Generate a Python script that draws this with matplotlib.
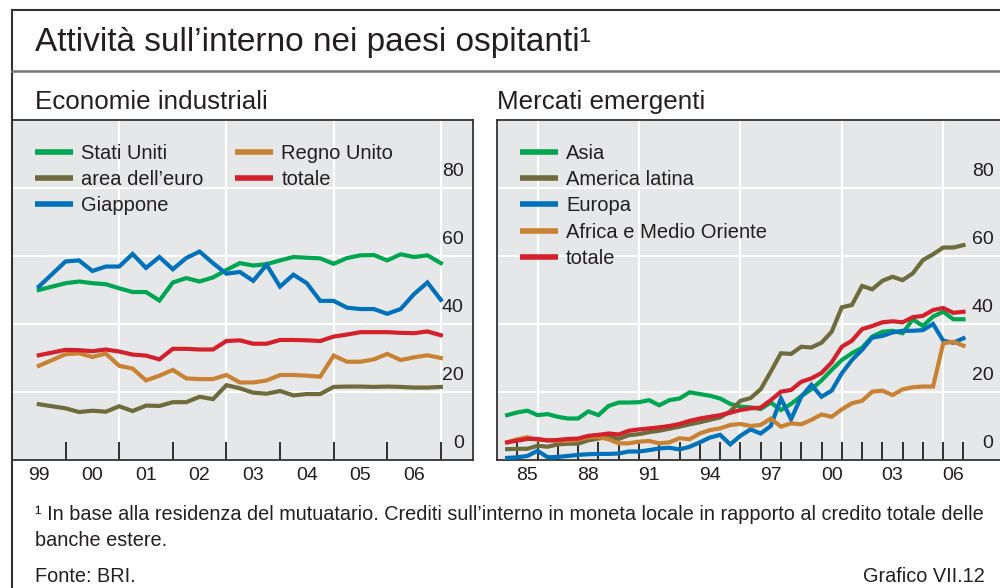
import numpy as np
import matplotlib
matplotlib.use("Agg")
import matplotlib.pyplot as plt
from matplotlib.lines import Line2D

plt.rcParams["font.family"] = ["Liberation Sans", "DejaVu Sans"]

# --- dati: economie industriali (trimestrali, 1999 T2 - 2006 T4) ---
ind_x = 1999.5 + 0.25 * np.arange(31)
stati_uniti = [50.0, 51.0, 52.0, 52.5, 52.0, 51.7, 50.5, 49.4, 49.4, 46.9, 52.2, 53.5, 52.5, 53.7, 55.9, 57.9,
               57.2, 57.6, 58.7, 59.7, 59.5, 59.3, 57.7, 59.4, 60.2, 60.3, 58.7, 60.5, 59.7, 60.2, 57.9]
area_euro = [16.4, 15.8, 15.2, 14.1, 14.5, 14.2, 15.8, 14.4, 16.0, 15.9, 17.0, 17.0, 18.6, 17.9, 22.0, 21.1,
             19.8, 19.5, 20.3, 19.0, 19.4, 19.4, 21.5, 21.6, 21.6, 21.5, 21.6, 21.5, 21.3, 21.3, 21.5]
giappone = [51.0, 54.7, 58.4, 58.7, 55.6, 56.9, 56.9, 60.6, 56.5, 59.7, 56.1, 59.4, 61.3, 57.9, 54.8, 55.3,
            52.7, 57.4, 51.0, 54.5, 52.0, 46.8, 46.8, 44.8, 44.4, 44.4, 43.0, 44.4, 48.8, 52.2, 47.1]
regno_unito = [27.7, 29.4, 31.1, 31.4, 30.3, 31.3, 27.7, 26.9, 23.4, 24.8, 26.5, 24.0, 23.8, 23.8, 25.0, 22.8,
               22.8, 23.4, 25.0, 25.0, 24.8, 24.5, 30.7, 28.9, 28.9, 29.6, 31.2, 29.4, 30.2, 30.8, 30.0]
totale_ind = [30.8, 31.6, 32.4, 32.3, 32.0, 32.5, 31.9, 31.0, 30.7, 29.6, 32.7, 32.7, 32.5, 32.5, 35.0, 35.2,
              34.2, 34.2, 35.3, 35.3, 35.2, 35.0, 36.3, 36.9, 37.6, 37.6, 37.6, 37.4, 37.3, 37.8, 36.7]

# --- dati: mercati emergenti (semestrali, 1984 S1 - 2006 S2) ---
em_x = 1984.5 + 0.5 * np.arange(46)
asia = [13.2, 14.0, 14.5, 13.2, 13.5, 12.7, 12.2, 12.2, 14.3, 13.2, 15.9, 16.9, 16.9, 17.0, 17.6, 16.1, 17.6,
        18.1, 19.9, 19.4, 18.9, 18.1, 16.5, 15.7, 15.5, 15.0, 16.9, 14.7, 16.5, 18.8, 20.8,
        23.4, 26.5, 29.4, 31.4, 33.0, 36.3, 37.7, 38.0, 37.3, 41.4, 39.4, 42.2, 43.6, 41.4, 41.4]
america_latina = [3.2, 3.3, 3.3, 4.2, 3.9, 4.6, 4.8, 4.8, 5.8, 6.3, 6.9, 6.2, 7.3, 7.6, 8.2, 8.6, 9.2,
                  9.8, 10.5, 11.1, 11.8, 12.5, 14.3, 17.4, 18.2, 20.8, 26.0, 31.4, 31.2, 33.3, 33.1,
                  34.5, 37.7, 44.9, 45.6, 51.2, 50.2, 52.7, 53.9, 52.9, 54.9, 58.8, 60.5, 62.5, 62.5, 63.2]
europa = [0.6, 0.8, 1.2, 2.7, 0.8, 0.9, 1.2, 1.5, 1.7, 1.8, 1.8, 1.9, 2.5, 2.5, 2.9, 3.4, 3.6,
          3.1, 3.9, 5.2, 6.6, 7.4, 4.6, 7.1, 9.0, 7.8, 10.0, 18.1, 12.0, 18.6, 22.1,
          18.6, 20.4, 25.5, 29.4, 32.4, 36.0, 36.5, 37.5, 38.0, 38.0, 38.2, 40.0, 35.1, 34.5, 35.8]
africa_mo = [5.2, 6.1, 6.7, 5.9, 5.9, 5.6, 5.6, 5.9, 6.7, 6.7, 6.1, 4.9, 4.9, 5.4, 5.6, 4.9, 5.2,
             6.4, 6.1, 7.8, 8.8, 9.3, 10.3, 10.6, 10.0, 10.3, 12.2, 9.8, 10.8, 10.5, 11.8,
             13.4, 12.7, 14.9, 16.7, 17.4, 20.1, 20.4, 19.1, 20.8, 21.4, 21.6, 21.6, 34.3, 34.8, 33.6]
totale_em = [5.2, 5.7, 6.2, 6.2, 5.7, 5.9, 6.2, 6.3, 7.1, 7.4, 7.8, 7.5, 8.6, 9.0, 9.3, 9.6, 10.0,
             10.6, 11.5, 12.2, 12.7, 13.2, 13.9, 14.7, 15.2, 15.4, 17.6, 20.1, 20.6, 23.0, 24.0,
             25.6, 28.7, 33.3, 35.1, 38.5, 39.4, 40.5, 40.8, 40.5, 42.0, 42.4, 44.1, 44.7, 43.3, 43.6]

y_ticks = [0, 20, 40, 60, 80]
ind_year_labels = ["99", "00", "01", "02", "03", "04", "05", "06"]
em_year_labels = ["85", "88", "91", "94", "97", "00", "03", "06"]

GREEN = "#00a651"
OLIVE = "#6e6c3c"
BLUE = "#0072bc"
ORANGE = "#c98234"
RED = "#d4202a"
BG = "#e6e7e8"
DARK = "#231f20"
LW = 3.0
FOOT = 14.3

fig = plt.figure(figsize=(10, 5.88), dpi=100)

# cornice
fig.add_artist(Line2D([0.012, 1.0], [1 - 10 / 588] * 2, color="#333333", lw=1.5))
fig.add_artist(Line2D([0.012, 0.012], [0, 1 - 10 / 588], color="#333333", lw=1.5))
fig.add_artist(Line2D([0.012, 1.0], [1 - 71 / 588] * 2, color="#777777", lw=1.8))

fig.text(0.035, 1 - 43 / 588, "Attività sull’interno nei paesi ospitanti¹", fontsize=24,
         color=DARK, va="center", ha="left")
fig.text(0.035, 1 - 102 / 588, "Economie industriali", fontsize=18.7, color=DARK, va="center")
fig.text(0.497, 1 - 102 / 588, "Mercati emergenti", fontsize=18.7, color=DARK, va="center")

fig.text(0.035, 1 - 515 / 588,
         "¹ In base alla residenza del mutuatario. Crediti sull’interno in moneta locale in rapporto al credito totale delle",
         fontsize=FOOT, color=DARK, va="center")
fig.text(0.035, 1 - 541 / 588, "banche estere.", fontsize=FOOT, color=DARK, va="center")
fig.text(0.035, 1 - 577 / 588, "Fonte: BRI.", fontsize=FOOT, color=DARK, va="center")
fig.text(0.985, 1 - 577 / 588, "Grafico VII.12", fontsize=FOOT, color=DARK, va="center", ha="right")

bottom = 1 - 460 / 588
height = 340 / 588
ax1 = fig.add_axes([12 / 1000, bottom, 461 / 1000, height])
ax2 = fig.add_axes([497 / 1000, bottom, 504 / 1000, height])


def style(ax, xlim, major, grid_x, label_pos, labels, lab_x):
    ax.set_facecolor(BG)
    ax.set_xlim(*xlim)
    ax.set_ylim(0, 100)
    for v in y_ticks[1:]:
        ax.axhline(v, color="white", lw=1.5, zorder=1)
    for v in grid_x:
        ax.axvline(v, color="white", lw=1.5, zorder=1)
    ax.set_yticks([])
    ax.set_xticks(major)
    ax.set_xticklabels([])
    ax.set_xticks(label_pos, minor=True)
    ax.set_xticklabels(labels, minor=True, fontsize=14, color=DARK)
    ax.tick_params(axis="x", which="major", direction="in", length=13, width=1.3, color=DARK)
    ax.tick_params(axis="x", which="minor", length=0, pad=5)
    for s in ax.spines.values():
        s.set_color("#333333")
        s.set_linewidth(1.3)
    for v in y_ticks:
        ax.annotate(str(v), xy=(lab_x, v), xycoords=("axes fraction", "data"),
                    xytext=(0, 12), textcoords="offset points",
                    ha="right", va="center", fontsize=14, color=DARK)


style(ax1, (1999.0, 2007.6), np.arange(2000, 2008), [2001, 2003, 2005, 2007],
      np.arange(1999.5, 2007), ind_year_labels, 0.980)
style(ax2, (1984.0, 2008.85), np.arange(1985, 2008), [1986, 1991, 1996, 2001, 2006],
      np.arange(1985.5, 2007, 3), em_year_labels, 0.985)
ax2.spines["right"].set_visible(False)

kw = dict(lw=LW, solid_joinstyle="miter", zorder=3)
ax1.plot(ind_x, stati_uniti, color=GREEN, label="Stati Uniti", **kw)
ax1.plot(ind_x, area_euro, color=OLIVE, label="area dell’euro", **kw)
ax1.plot(ind_x, giappone, color=BLUE, label="Giappone", **kw)
ax1.plot(ind_x, regno_unito, color=ORANGE, label="Regno Unito", **kw)
ax1.plot(ind_x, totale_ind, color=RED, label="totale", **kw)

ax2.plot(em_x, asia, color=GREEN, label="Asia", **kw)
ax2.plot(em_x, america_latina, color=OLIVE, label="America latina", **kw)
ax2.plot(em_x, europa, color=BLUE, label="Europa", **kw)
ax2.plot(em_x, africa_mo, color=ORANGE, label="Africa e Medio Oriente", **kw)
ax2.plot(em_x, totale_em, color=RED, label="totale", **kw)

leg_kw = dict(loc="upper left", frameon=False, fontsize=14.5, borderpad=0, borderaxespad=0,
              handlelength=1.9, handletextpad=0.4, labelspacing=0.36)
leg1 = ax1.legend(ncol=2, columnspacing=1.55, bbox_to_anchor=(0.05, 0.93), **leg_kw)
leg2 = ax2.legend(ncol=1, bbox_to_anchor=(0.045, 0.93), **leg_kw)
for leg in (leg1, leg2):
    for t in leg.get_texts():
        t.set_color(DARK)
    for h in leg.get_lines():
        h.set_linewidth(4)
        h.set_solid_capstyle("butt")

fig.savefig("out.png", dpi=100)
